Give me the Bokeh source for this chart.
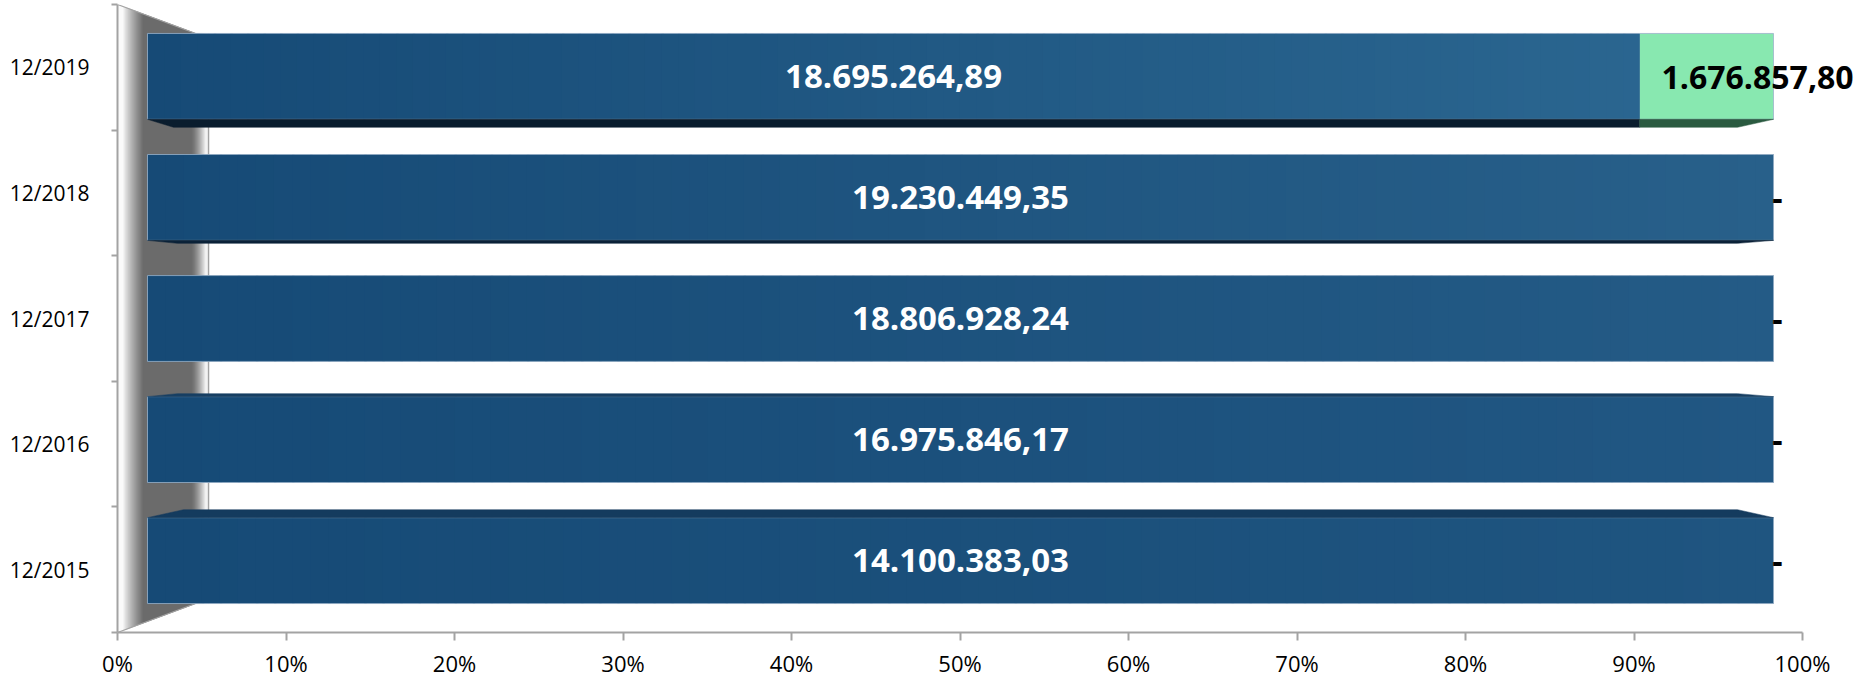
import numpy as np
from bokeh.plotting import figure
from bokeh.models import Range1d, FixedTicker, ColumnDataSource
from bokeh.core.properties import value
from bokeh.embed import file_html
from bokeh.resources import INLINE

# ---------------- data ----------------
categories = ["12/2015", "12/2016", "12/2017", "12/2018", "12/2019"]
series1 = [14100383.03, 16975846.17, 18806928.24, 19230449.35, 18695264.89]
series2 = [0.0, 0.0, 0.0, 0.0, 1676857.80]
x_ticks = [0, 10, 20, 30, 40, 50, 60, 70, 80, 90, 100]
x_tick_labels = ["0%", "10%", "20%", "30%", "40%", "50%", "60%", "70%", "80%", "90%", "100%"]

color1_left = "#164a76"
color1_right = ["#1f5580", "#215783", "#245b86", "#28608a", "#2c6892"]
color2 = "#88e8b0"
AXIS_GREY = "#a3a3a3"
FONT = "Open Sans"


def fmt_br(v):
    if v == 0:
        return "-"
    s = f"{v:,.2f}"
    return s.replace(",", "X").replace(".", ",").replace("X", ".")


def hex2rgb(h):
    h = h.lstrip("#")
    return [int(h[i:i + 2], 16) for i in (0, 2, 4)]


def mix(c0, c1, t):
    a, b = hex2rgb(c0), hex2rgb(c1)
    return "#%02x%02x%02x" % tuple(int(round(a[k] + (b[k] - a[k]) * t)) for k in range(3))


n = len(categories)
tot = [a + b for a, b in zip(series1, series2)]
f1 = [100.0 * a / t for a, t in zip(series1, tot)]
f2 = [100.0 * b / t for b, t in zip(series2, tot)]

# ---------------- layout (page pixels) ----------------
W, H = 1865, 680
AX_L, AX_R = 117.0, 1802.0        # 0% and 100% positions
AX_T, AX_B = 4.0, 633.0           # top / bottom of the category axis
BL, BR, BT, BB = int(AX_L), 0, int(AX_T), int(H - AX_B)
PX_X = (AX_R - AX_L) / 100.0
PX_Y = (AX_B - AX_T) / 5.0


def mx(px):
    return (px - AX_L) / PX_X


def my(py):
    return (AX_B - py) / PX_Y


x_end = mx(W)

# perspective: front faces of the bars
bar_left_px, bar_right_px = 147.0, 1773.0
a = mx(bar_left_px)
b = mx(bar_right_px)
sx = (b - a) / 100.0
bx0 = (0 - a) / sx
bx1 = (x_end - a) / sx

c_top_py, c_bot_py = 76.0, 561.0
v_top, v_bot = my(c_top_py), my(c_bot_py)
sy = (v_top - v_bot) / (n - 1)
by0 = 0.5 + (0.0 - v_bot) / sy
by1 = 0.5 + (5.0 - v_bot) / sy
bar_h_px = 86.0
bar_h = bar_h_px / PX_Y / sy

p = figure(width=W, height=H, output_backend="svg", toolbar_location=None,
           x_range=Range1d(0, x_end), y_range=Range1d(0, 5),
           min_border_left=BL, min_border_right=BR,
           min_border_top=BT, min_border_bottom=BB)
p.extra_x_ranges = {"bx": Range1d(bx0, bx1)}
p.extra_y_ranges = {"by": Range1d(by0, by1)}
p.outline_line_color = None
p.xgrid.visible = False
p.ygrid.visible = False
p.background_fill_color = "white"
p.border_fill_color = "white"

# ---------------- side wall (3D) ----------------
wall_in_x = mx(195.0)
wall_top_in = my(33.0)
wall_bot_in = my(604.0)


def wall_top(x):
    return 5.0 - (5.0 - wall_top_in) * min(x, wall_in_x) / wall_in_x


def wall_bot(x):
    return wall_bot_in * min(x, wall_in_x) / wall_in_x


def wall_grey(px):
    lo, hi = 104, 250
    if px < 6:
        return hi
    if px < 26:
        t = (px - 6) / 20.0
        return hi - (hi - lo) * (t ** 0.8)
    if px < 74:
        return lo
    if px < 89:
        t = (px - 74) / 15.0
        return lo + (hi - lo) * (t ** 1.4)
    return hi


wxs, wys, wcol = [], [], []
for px in range(0, 89):
    x0 = mx(AX_L + px)
    x1 = mx(AX_L + px + 1.3)
    g = int(round(wall_grey(px + 0.5)))
    wxs.append([x0, x1, x1, x0])
    wys.append([wall_bot(x0), wall_bot(x1), wall_top(x1), wall_top(x0)])
    wcol.append("#%02x%02x%02x" % (g, g, g))
p.patches(xs="xs", ys="ys", fill_color="c", line_color="c", line_width=0.6,
          source=ColumnDataSource(dict(xs=wxs, ys=wys, c=wcol)))

p.line([0, wall_in_x], [5.0, wall_top_in], line_color=AXIS_GREY, line_width=1.2)
p.line([0, wall_in_x], [0.0, wall_bot_in], line_color=AXIS_GREY, line_width=1.2)
back_x = mx(208.0)
p.line([back_x, back_x], [wall_bot_in, wall_top_in], line_color=AXIS_GREY, line_width=1.5)

# ---------------- bars ----------------
yc = [i + 0.5 for i in range(n)]
src = ColumnDataSource(dict(y=yc, s1=f1, left2=f1, right2=[x + y for x, y in zip(f1, f2)],
                            zero=[0.0] * n))
p.hbar(y="y", left="zero", right="s1", height=bar_h, source=src,
       fill_color=color1_left, line_color=None, x_range_name="bx", y_range_name="by")
p.hbar(y="y", left="left2", right="right2", height=bar_h, source=src,
       fill_color=color2, line_color=None, x_range_name="bx", y_range_name="by")

# horizontal gradient (opaque strips) on series-1 segments
gl, gr, gy, gc = [], [], [], []
NS = 90
for i in range(n):
    edges = np.linspace(0, f1[i], NS + 1)
    for k in range(NS):
        gl.append(edges[k])
        gr.append(min(edges[k + 1] + 0.15, f1[i]))
        gy.append(yc[i])
        t = (edges[k] + edges[k + 1]) / 2.0 / 100.0
        gc.append(mix(color1_left, color1_right[i], t))
p.hbar(y="y", left="l", right="r", height=bar_h, fill_color="c",
       line_color=None, x_range_name="bx", y_range_name="by",
       source=ColumnDataSource(dict(y=gy, l=gl, r=gr, c=gc)))

# bar outlines (thin light edge)
p.hbar(y="y", left="zero", right="right2", height=bar_h, source=src, fill_color=None,
       line_color="#9db4cb", line_width=1, line_alpha=0.8,
       x_range_name="bx", y_range_name="by")

# 3D faces: depth in px per bar, >0 bottom face, <0 top face
face_depth_px = [-8.0, -3.0, 0.0, 3.0, 8.0]
face_left_px = [36.0, 30.0, 0.0, 30.0, 26.0]
face_right_px = 36.0
face_col1 = ["#143b5e", "#173f63", None, "#0b2238", "#0a1d2e"]
face_col2 = "#2a5a40"
fxs, fys, fcs = [], [], []
for i in range(n):
    d = face_depth_px[i]
    if d == 0:
        continue
    du = abs(d) / PX_Y / sy
    Lu = face_left_px[i] / (bar_right_px - bar_left_px) * 100.0
    Ru = face_right_px / (bar_right_px - bar_left_px) * 100.0
    if d > 0:
        ye = yc[i] - bar_h / 2.0
        yo = ye - du
    else:
        ye = yc[i] + bar_h / 2.0
        yo = ye + du
    end = f1[i] + f2[i]
    fcut = f1[i]
    fxs.append([0, fcut, min(fcut, end - Ru), Lu])
    fys.append([ye, ye, yo, yo])
    fcs.append(face_col1[i])
    if f2[i] > 0:
        fxs.append([fcut, end, end - Ru, min(fcut, end - Ru)])
        fys.append([ye, ye, yo, yo])
        fcs.append(face_col2)
p.patches(xs="xs", ys="ys", fill_color="c", line_color="c", line_width=0.5,
          source=ColumnDataSource(dict(xs=fxs, ys=fys, c=fcs)),
          x_range_name="bx", y_range_name="by")

# ---------------- labels ----------------
lab1 = ColumnDataSource(dict(x=[v / 2.0 for v in f1], y=yc, t=[fmt_br(v) for v in series1]))
p.text(x="x", y="y", text="t", source=lab1, text_color="white",
       text_font=value(FONT), text_font_style="bold", text_font_size="33px",
       text_align="center", text_baseline="middle",
       x_range_name="bx", y_range_name="by")

x2 = [f1[i] + f2[i] / 2.0 for i in range(n)]
off2 = [51.0 if series2[i] else 4.0 for i in range(n)]
lab2 = ColumnDataSource(dict(x=x2, y=yc, t=[fmt_br(v) for v in series2], o=off2))
p.text(x="x", y="y", text="t", source=lab2, text_color="black", x_offset="o", y_offset=1,
       text_font=value(FONT), text_font_style="bold", text_font_size="32px",
       text_align="center", text_baseline="middle",
       x_range_name="bx", y_range_name="by")

# ---------------- axes ----------------
xa = p.xaxis[0]
xa.bounds = (0, 100)
xa.ticker = FixedTicker(ticks=x_ticks, minor_ticks=[])
xa.major_label_overrides = {t: l for t, l in zip(x_ticks, x_tick_labels)}
xa.axis_line_color = AXIS_GREY
xa.axis_line_width = 2
xa.major_tick_line_color = AXIS_GREY
xa.major_tick_line_width = 2
xa.major_tick_out = 8
xa.major_tick_in = 0
xa.major_label_standoff = 7
xa.major_label_text_font = FONT
xa.major_label_text_font_size = "22px"
xa.major_label_text_color = "black"

ya = p.yaxis[0]
ya.ticker = FixedTicker(ticks=yc, minor_ticks=[float(i) for i in range(n + 1)])
ya.major_label_overrides = {y: c for y, c in zip(yc, categories)}
ya.axis_line_color = AXIS_GREY
ya.axis_line_width = 2
ya.major_tick_line_color = None
ya.major_tick_out = 0
ya.major_tick_in = 0
ya.minor_tick_line_color = AXIS_GREY
ya.minor_tick_line_width = 2
ya.minor_tick_out = 6
ya.minor_tick_in = 0
ya.major_label_standoff = 22
ya.major_label_text_font = FONT
ya.major_label_text_font_size = "21px"
ya.major_label_text_color = "black"

open("out.html", "w").write(file_html(p, INLINE))
